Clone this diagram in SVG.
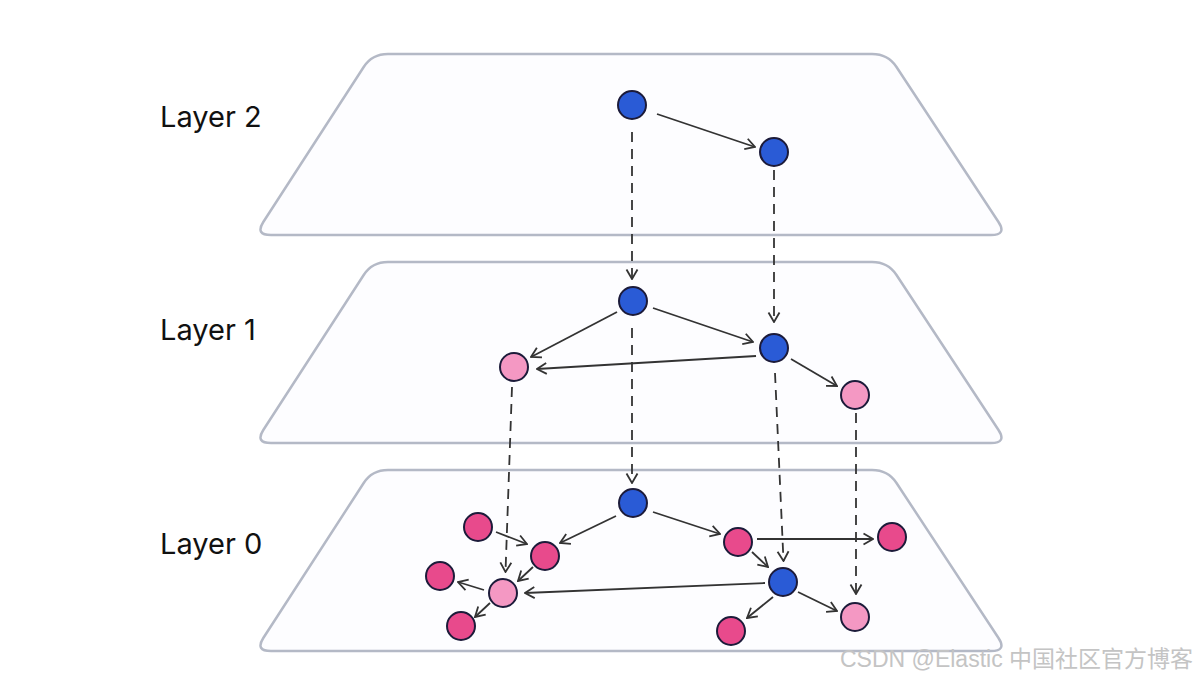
<svg xmlns="http://www.w3.org/2000/svg" width="1200" height="676" viewBox="0 0 1200 676">
<style>
.plane{fill:#fdfdff;stroke:#b4b9c6;stroke-width:2.5}
.lbl{font-family:Inter,"Liberation Sans",sans-serif;font-size:29px;fill:#111}
.blue{fill:#2a5bd6;stroke:#1c1b3a;stroke-width:2}
.dark{fill:#e84a8c;stroke:#1c1b3a;stroke-width:2}
.light{fill:#f498c3;stroke:#1c1b3a;stroke-width:2}
.e{stroke:#333;stroke-width:1.8;fill:none;marker-end:url(#ah)}
.d{stroke:#333;stroke-width:1.8;fill:none;stroke-dasharray:10 7;marker-end:url(#ah)}
.wm{font-family:"Liberation Sans","Noto Sans CJK SC",sans-serif;font-size:23px;fill:#c4c4c4}
</style>
<defs>
<marker id="ah" viewBox="0 0 14 14" refX="13" refY="7" markerWidth="14" markerHeight="14" markerUnits="userSpaceOnUse" orient="auto">
<path d="M3.5,1.5 L13,7 L3.5,12.5" fill="none" stroke="#333" stroke-width="1.8" stroke-dasharray="none"/>
</marker>
<path id="trap" d="M388,0 L872,0 Q888,0 896.5,13 L998.5,168 Q1007,181 991,181 L271,181 Q255,181 263.3,168 L363.7,13 Q372,0 388,0 Z"/>
</defs>
<g id="planes">
<use href="#trap" class="plane" transform="translate(0,54)"/>
<use href="#trap" class="plane" transform="translate(0,262)"/>
<use href="#trap" class="plane" transform="translate(0,470)"/>
</g>
<g id="labels">
<text class="lbl" x="160" y="127">Layer 2</text>
<text class="lbl" x="160" y="340">Layer 1</text>
<text class="lbl" x="160" y="554">Layer 0</text>
</g>
<g id="connectors">
<line class="e" x1="657" y1="114" x2="755" y2="147"/>
<line class="d" x1="632" y1="132" x2="632" y2="279"/>
<line class="d" x1="774" y1="170" x2="774" y2="322"/>
<line class="e" x1="617" y1="312" x2="531" y2="357"/>
<line class="e" x1="653" y1="308" x2="753" y2="342"/>
<line class="e" x1="756" y1="356" x2="537" y2="369"/>
<line class="e" x1="791" y1="359" x2="837" y2="386"/>
<line class="d" x1="632" y1="328" x2="632" y2="483"/>
<line class="d" x1="775" y1="373" x2="783.5" y2="561"/>
<line class="d" x1="512" y1="387" x2="505.5" y2="572"/>
<line class="d" x1="856" y1="413" x2="856" y2="594"/>
<line class="e" x1="616" y1="516" x2="560" y2="543"/>
<line class="e" x1="653" y1="512" x2="720" y2="534"/>
<line class="e" x1="496" y1="532" x2="527" y2="544"/>
<line class="e" x1="533" y1="567" x2="518" y2="581"/>
<line class="e" x1="484" y1="590" x2="458" y2="582"/>
<line class="e" x1="490" y1="603" x2="475" y2="617"/>
<line class="e" x1="765" y1="583" x2="525" y2="593"/>
<line class="e" x1="757" y1="539" x2="873" y2="539"/>
<line class="e" x1="752" y1="552" x2="768" y2="567"/>
<line class="e" x1="773" y1="597" x2="747" y2="618"/>
<line class="e" x1="798" y1="592" x2="837" y2="611"/>
</g>
<g id="nA"><circle class="blue" cx="632" cy="105" r="14"/></g>
<g id="nB"><circle class="blue" cx="774" cy="152" r="14"/></g>
<g id="nC"><circle class="blue" cx="633" cy="301" r="14"/></g>
<g id="nD"><circle class="blue" cx="774" cy="348" r="14"/></g>
<g id="nE"><circle class="light" cx="514" cy="367" r="14"/></g>
<g id="nF"><circle class="light" cx="855" cy="395" r="14"/></g>
<g id="nG"><circle class="blue" cx="633" cy="503" r="14"/></g>
<g id="nH"><circle class="dark" cx="478" cy="527" r="14"/></g>
<g id="nI"><circle class="dark" cx="545" cy="556" r="14"/></g>
<g id="nJ"><circle class="light" cx="503" cy="593" r="14"/></g>
<g id="nK"><circle class="dark" cx="440" cy="576" r="14"/></g>
<g id="nL"><circle class="dark" cx="461" cy="626" r="14"/></g>
<g id="nM"><circle class="dark" cx="738" cy="542" r="14"/></g>
<g id="nN"><circle class="dark" cx="892" cy="537" r="14"/></g>
<g id="nO"><circle class="blue" cx="783" cy="582" r="14"/></g>
<g id="nP"><circle class="light" cx="855" cy="617" r="14"/></g>
<g id="nQ"><circle class="dark" cx="731" cy="631" r="14"/></g>
<text class="wm" x="840" y="667">CSDN @Elastic 中国社区官方博客</text>
</svg>
